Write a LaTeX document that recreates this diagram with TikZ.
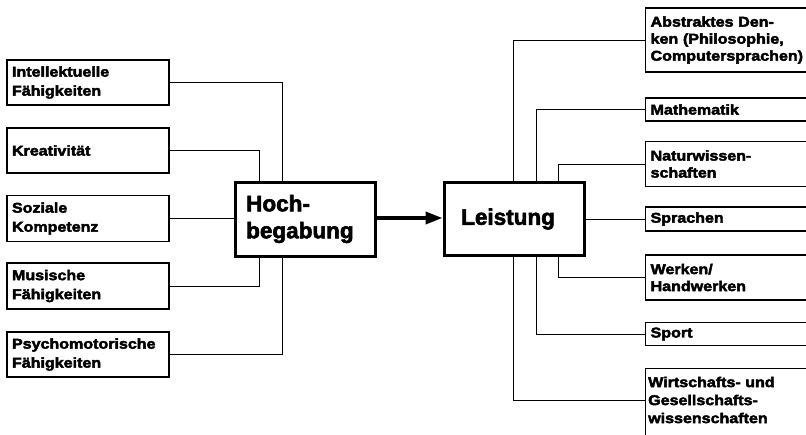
\documentclass[tikz,border=0pt]{standalone}
\usepackage{fontspec}
\newfontfamily\labfont{Liberation Sans}[FakeStretch=1.13,BoldFeatures={FakeBold=3}]
\newfontfamily\bigfont{Liberation Sans}[BoldFeatures={FakeBold=2.5}]
\usetikzlibrary{arrows.meta}
\begin{document}
\begin{tikzpicture}[x=1pt,y=-1pt,
  lbox/.style={draw, line width=1.2pt, minimum width=162pt, text width=152pt, inner sep=5pt, align=left, font=\labfont\bfseries\fontsize{14.2}{19}\selectfont},
  rbox/.style={draw, line width=1.2pt, minimum width=180pt, text width=170pt, inner xsep=3pt, inner ysep=3pt, align=left, anchor=west, font=\labfont\bfseries\fontsize{14.2}{17}\selectfont},
  rtext/.style={inner sep=0pt, align=left, anchor=west, font=\labfont\bfseries\fontsize{14.2}{18}\selectfont},
  mainbox/.style={draw, line width=3pt, inner sep=0pt},
  conn/.style={line width=0.9pt}
]
\useasboundingbox (0,0) rectangle (806,434);
\fill[white] (0,0) rectangle (806,434);

% left boxes
\node[lbox, minimum height=45pt] (l1) at (88,82.5) {Intellektuelle\\Fähigkeiten};
\node[lbox, minimum height=45pt] (l2) at (88,150.5) {Kreativität};
\node[lbox, minimum height=46pt] (l3) at (88,218.5) {Soziale\\Kompetenz};
\node[lbox, minimum height=46pt] (l4) at (88,286) {Musische\\Fähigkeiten};
\node[lbox, minimum height=45pt] (l5) at (88,354.5) {Psychomotorische\\Fähigkeiten};

% main boxes
\node[mainbox, minimum width=140pt, minimum height=74pt] (hoch) at (305,219) {};
\node[anchor=west, inner sep=0pt, align=left, font=\bigfont\bfseries\fontsize{22.5}{27}\selectfont] (hocht) at (246,219) {Hoch-\\begabung};
\node[mainbox, minimum width=140pt, minimum height=73pt] (leis) at (514,218.5) {};
\node[anchor=west, inner sep=0pt, font=\bigfont\bfseries\fontsize{22.5}{27}\selectfont] (leist) at (461,219) {Leistung};

% right boxes
\node[rbox, minimum height=64pt] (r1) at (645,40) {Abstraktes Den-\\ken (Philosophie,\\Computersprachen)};
\node[rbox, minimum height=23pt] (r2) at (645,109.5) {Mathematik};
\node[rbox, minimum height=45pt] (r3) at (645,164) {Naturwissen-\\schaften};
\node[rbox, minimum height=24pt] (r4) at (645,219) {Sprachen};
\node[rbox, minimum height=45pt] (r5) at (645,277.5) {Werken/\\Handwerken};
\node[rbox, minimum height=23pt] (r6) at (645,334) {Sport};
\node[draw, line width=1.2pt, minimum width=180pt, minimum height=80pt, anchor=north west, inner sep=0pt] (r7) at (645,368) {};
\node[rtext] (r7t) at (648,400) {Wirtschafts- und\\Gesellschafts-\\wissenschaften};

% left connectors
\draw[conn] (l1.east) -| (hoch.north -| 282,0);
\draw[conn] (l2.east) -| (hoch.north -| 259,0);
\draw[conn] (l3.east) -- (hoch.west |- l3.east);
\draw[conn] (l4.east) -| (hoch.south -| 259,0);
\draw[conn] (l5.east) -| (hoch.south -| 282,0);

% arrow
\draw[line width=3.5pt, -{Triangle[length=17pt,width=12pt]}] (hoch.east |- 0,218) -- (leis.west |- 0,218);

% right connectors
\draw[conn] (leis.north -| 513,0) |- (r1.west);
\draw[conn] (leis.north -| 536,0) |- (r2.west);
\draw[conn] (leis.north -| 558,0) |- (r3.west);
\draw[conn] (leis.east |- r4.west) -- (r4.west);
\draw[conn] (leis.south -| 558,0) |- (r5.west);
\draw[conn] (leis.south -| 536,0) |- (r6.west);
\draw[conn] (leis.south -| 513,0) |- (r7.west |- r7t.west);
\end{tikzpicture}
\end{document}
